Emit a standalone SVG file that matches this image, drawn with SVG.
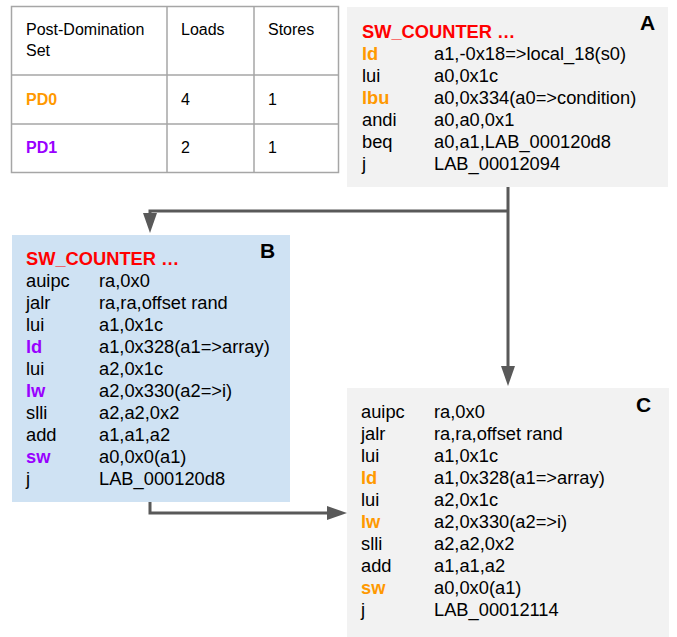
<svg xmlns="http://www.w3.org/2000/svg" width="677" height="637" viewBox="0 0 677 637">
<defs>
<style>
text{font-family:"Liberation Sans",Arial,sans-serif;fill:#000}
.t{font-size:16px}
.c{font-size:18.3px}
.b{font-weight:bold}
.or{fill:#ff9900;font-weight:bold}
.pu{fill:#9900ff;font-weight:bold}
.rd{fill:#ff0000;font-weight:bold}
.lab{font-size:21px;font-weight:bold}
.grid{fill:none;stroke:#a6a6a6;stroke-width:1.5}
.conn{fill:none;stroke:#595959;stroke-width:3;stroke-linejoin:miter}
</style>
<marker id="ah" viewBox="0 0 20 14" refX="10" refY="7" markerWidth="20" markerHeight="14" markerUnits="userSpaceOnUse" orient="auto">
<path d="M0,0 L20,7 L0,14 z" fill="#595959"/>
</marker>
</defs>
<rect width="677" height="637" fill="#fff"/>

<g id="table">
<rect class="grid" x="11.5" y="6.5" width="327" height="166"/>
<line class="grid" x1="167" y1="6.5" x2="167" y2="172.5"/>
<line class="grid" x1="254" y1="6.5" x2="254" y2="172.5"/>
<line class="grid" x1="11.5" y1="75" x2="338.5" y2="75"/>
<line class="grid" x1="11.5" y1="124" x2="338.5" y2="124"/>
<text class="t" x="26" y="35">Post-Domination</text>
<text class="t" x="26" y="56">Set</text>
<text class="t" x="181" y="35">Loads</text>
<text class="t" x="268" y="35">Stores</text>
<text class="t or" x="26" y="105">PD0</text>
<text class="t" x="181" y="105">4</text>
<text class="t" x="268" y="105">1</text>
<text class="t pu" x="26" y="153">PD1</text>
<text class="t" x="181" y="153">2</text>
<text class="t" x="268" y="153">1</text>
</g>

<g id="connectors">
<path class="conn" d="M508,187 V376" marker-end="url(#ah)"/>
<path class="conn" d="M508,211 H150 V223" marker-end="url(#ah)"/>
<path class="conn" d="M150,502 V513 H337" marker-end="url(#ah)"/>
</g>

<g id="nodeA">
<rect x="347" y="7" width="321" height="180" fill="#f2f2f2"/>
<text class="lab" x="640" y="30">A</text>
<text class="c rd" x="362" y="38">SW_COUNTER …</text>
<text class="c" x="362" y="60"><tspan class="or">ld</tspan><tspan x="434">a1,-0x18=&gt;local_18(s0)</tspan></text>
<text class="c" x="362" y="82">lui<tspan x="434">a0,0x1c</tspan></text>
<text class="c" x="362" y="104"><tspan class="or">lbu</tspan><tspan x="434">a0,0x334(a0=&gt;condition)</tspan></text>
<text class="c" x="362" y="126">andi<tspan x="434">a0,a0,0x1</tspan></text>
<text class="c" x="362" y="148">beq<tspan x="434">a0,a1,LAB_000120d8</tspan></text>
<text class="c" x="362" y="170">j<tspan x="434">LAB_00012094</tspan></text>
</g>

<g id="nodeB">
<rect x="12" y="235" width="278" height="267" fill="#cfe2f3"/>
<text class="lab" x="260" y="258">B</text>
<text class="c rd" x="26" y="265">SW_COUNTER …</text>
<text class="c" x="26" y="287">auipc<tspan x="99">ra,0x0</tspan></text>
<text class="c" x="26" y="309">jalr<tspan x="99">ra,ra,offset rand</tspan></text>
<text class="c" x="26" y="331">lui<tspan x="99">a1,0x1c</tspan></text>
<text class="c" x="26" y="353"><tspan class="pu">ld</tspan><tspan x="99">a1,0x328(a1=&gt;array)</tspan></text>
<text class="c" x="26" y="375">lui<tspan x="99">a2,0x1c</tspan></text>
<text class="c" x="26" y="397"><tspan class="pu">lw</tspan><tspan x="99">a2,0x330(a2=&gt;i)</tspan></text>
<text class="c" x="26" y="419">slli<tspan x="99">a2,a2,0x2</tspan></text>
<text class="c" x="26" y="441">add<tspan x="99">a1,a1,a2</tspan></text>
<text class="c" x="26" y="463"><tspan class="pu">sw</tspan><tspan x="99">a0,0x0(a1)</tspan></text>
<text class="c" x="26" y="485">j<tspan x="99">LAB_000120d8</tspan></text>
</g>

<g id="nodeC">
<rect x="347" y="388" width="322" height="249" fill="#f2f2f2"/>
<text class="lab" x="636" y="412">C</text>
<text class="c" x="361" y="418">auipc<tspan x="434">ra,0x0</tspan></text>
<text class="c" x="361" y="440">jalr<tspan x="434">ra,ra,offset rand</tspan></text>
<text class="c" x="361" y="462">lui<tspan x="434">a1,0x1c</tspan></text>
<text class="c" x="361" y="484"><tspan class="or">ld</tspan><tspan x="434">a1,0x328(a1=&gt;array)</tspan></text>
<text class="c" x="361" y="506">lui<tspan x="434">a2,0x1c</tspan></text>
<text class="c" x="361" y="528"><tspan class="or">lw</tspan><tspan x="434">a2,0x330(a2=&gt;i)</tspan></text>
<text class="c" x="361" y="550">slli<tspan x="434">a2,a2,0x2</tspan></text>
<text class="c" x="361" y="572">add<tspan x="434">a1,a1,a2</tspan></text>
<text class="c" x="361" y="594"><tspan class="or">sw</tspan><tspan x="434">a0,0x0(a1)</tspan></text>
<text class="c" x="361" y="616">j<tspan x="434">LAB_00012114</tspan></text>
</g>
</svg>
